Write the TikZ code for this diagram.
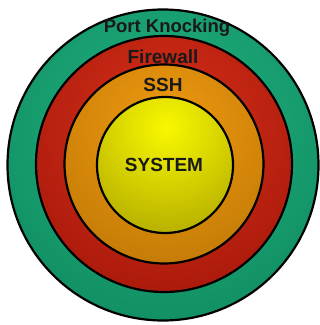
\documentclass[tikz,border=0pt]{standalone}
\usepackage{fontspec}
\setmainfont{Liberation Sans}
\definecolor{gLight}{HTML}{22B382}
\definecolor{gDark}{HTML}{0E8A5E}
\definecolor{rLight}{HTML}{D8301A}
\definecolor{rDark}{HTML}{9A1206}
\definecolor{oLight}{HTML}{F09A10}
\definecolor{oDark}{HTML}{A86800}
\definecolor{yLight}{HTML}{F8F800}
\definecolor{yDark}{HTML}{B0A800}
\definecolor{txt}{HTML}{1A1A1A}
\begin{document}
\begin{tikzpicture}[x=1pt,y=1pt,
  ring/.style n args={2}{draw=black,line width=2.2pt,
    path picture={\shade[inner color=#1,outer color=#2] (light) circle (230);}},
  lbl/.style={font=\bfseries\fontsize{19}{19}\selectfont,text=txt,inner sep=0pt}]
\useasboundingbox (0,0) rectangle (320,325);
\fill[white] (0,0) rectangle (320,325);
\coordinate (light) at (166,198);
\coordinate (c0) at (163,160);
\coordinate (c1) at (164,161);
\coordinate (c2) at (164,161);
\coordinate (c3) at (165,160);
\path[ring={gLight}{gDark}] (c0) circle (155.5);
\path[ring={rLight}{rDark}] (c1) circle (128);
\path[ring={oLight}{oDark}] (c2) circle (99.5);
\path[draw=black,line width=2.2pt,
  path picture={\shade[inner color=yLight,outer color=yDark] (light) circle (120);}] (c3) circle (68);
\node[lbl,font=\bfseries\fontsize{18.5}{18.5}\selectfont] (pk) at (167,297) {Port Knocking};
\node[lbl] (fw) at (163,268) {Firewall};
\node[lbl] (ssh) at (163,240) {SSH};
\node[lbl] (sys) at (164,160) {SYSTEM};
\end{tikzpicture}
\end{document}
